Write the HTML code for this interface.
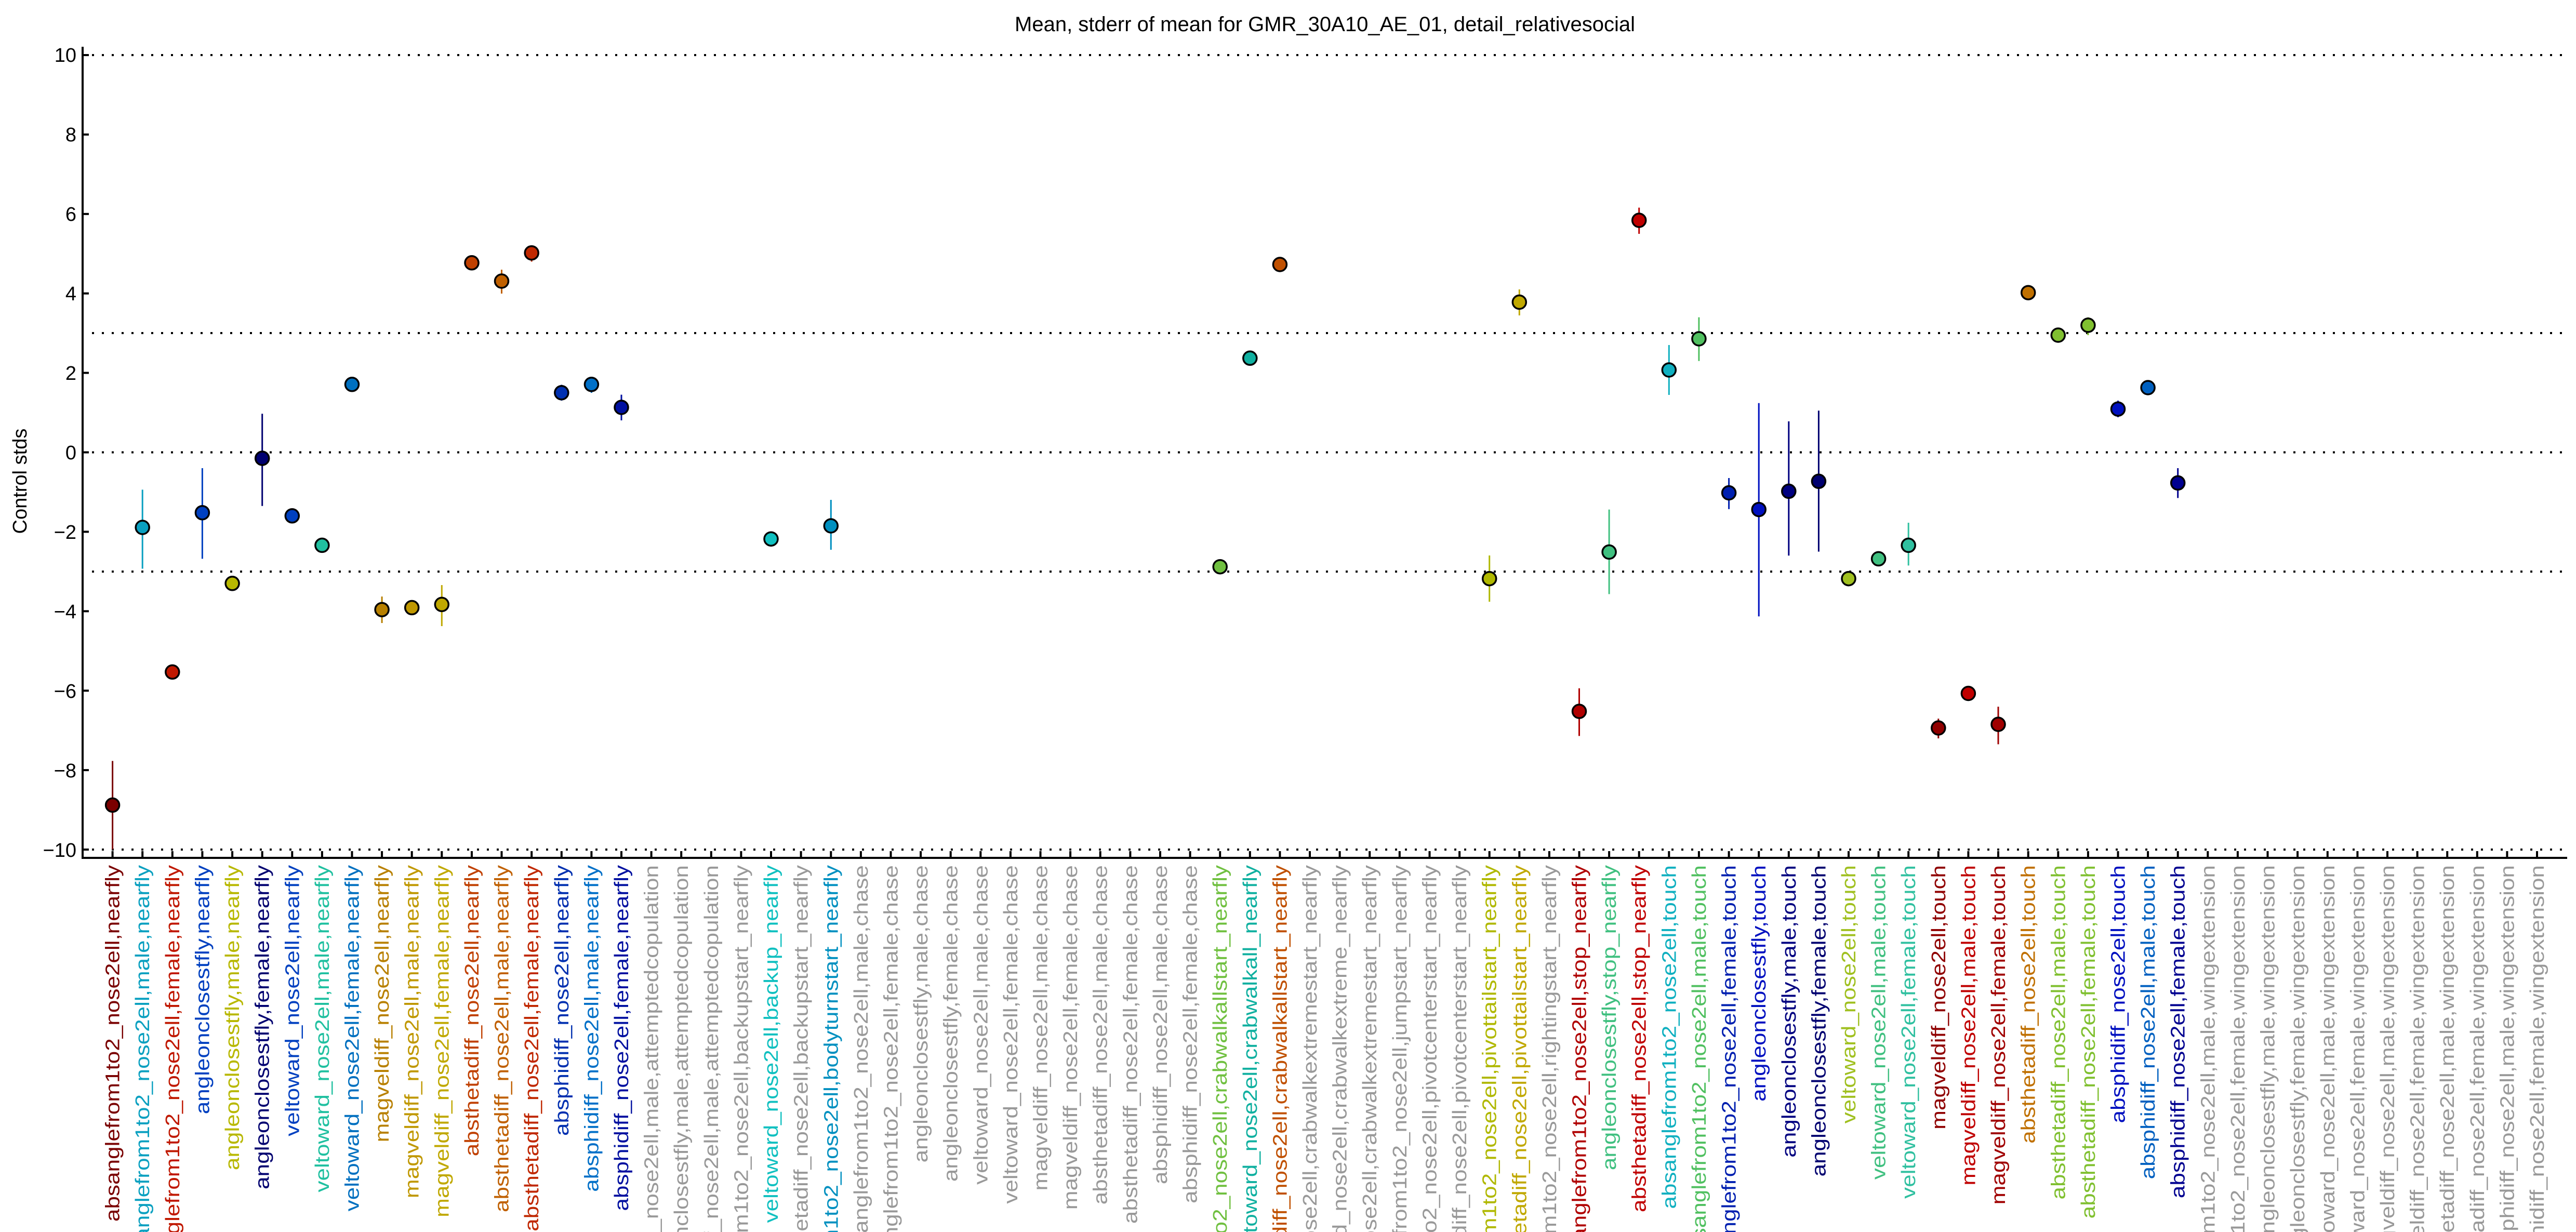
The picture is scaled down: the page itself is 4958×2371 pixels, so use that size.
<!DOCTYPE html>
<html><head><meta charset="utf-8"><style>html,body{margin:0;padding:0;background:#fff;width:4958px;height:2371px;overflow:hidden}svg{display:block}</style></head>
<body>
<svg xmlns="http://www.w3.org/2000/svg" width="4958" height="2371" viewBox="0 0 4958 2371" font-family="Liberation Sans, Arial, sans-serif">
<rect width="4958" height="2371" fill="#fff"/>
<text x="2550" y="60" font-size="40" text-anchor="middle" fill="#000">Mean, stderr of mean for GMR_30A10_AE_01, detail_relativesocial</text>
<text transform="translate(51,926) rotate(-90)" font-size="38" text-anchor="middle" fill="#000">Control stds</text>
<g stroke="#000" stroke-width="4" stroke-dasharray="4 15">
<line x1="177" y1="106" x2="4941" y2="106"/>
<line x1="177" y1="641" x2="4941" y2="641"/>
<line x1="177" y1="870.5" x2="4941" y2="870.5"/>
<line x1="177" y1="1100" x2="4941" y2="1100"/>
<line x1="177" y1="1635" x2="4941" y2="1635"/>
</g>
<line x1="159" y1="90" x2="159" y2="1653" stroke="#000" stroke-width="4"/>
<line x1="157" y1="1651" x2="4941" y2="1651" stroke="#000" stroke-width="4"/>
<g stroke="#000" stroke-width="4">
<line x1="159" y1="106" x2="171" y2="106"/><line x1="159" y1="258.9" x2="171" y2="258.9"/><line x1="159" y1="411.8" x2="171" y2="411.8"/><line x1="159" y1="564.7" x2="171" y2="564.7"/><line x1="159" y1="717.6" x2="171" y2="717.6"/><line x1="159" y1="870.5" x2="171" y2="870.5"/><line x1="159" y1="1023.4" x2="171" y2="1023.4"/><line x1="159" y1="1176.3" x2="171" y2="1176.3"/><line x1="159" y1="1329.2" x2="171" y2="1329.2"/><line x1="159" y1="1482.1" x2="171" y2="1482.1"/><line x1="159" y1="1635" x2="171" y2="1635"/>
</g>
<g font-size="38" text-anchor="end" fill="#000">
<text x="147" y="119">10</text><text x="147" y="272">8</text><text x="147" y="425">6</text><text x="147" y="578">4</text><text x="147" y="731">2</text><text x="147" y="884">0</text><text x="147" y="1037">−2</text><text x="147" y="1190">−4</text><text x="147" y="1343">−6</text><text x="147" y="1496">−8</text><text x="147" y="1649">−10</text>
</g>
<path stroke="#000" stroke-width="4" fill="none" d="M216.6 1651v-13M274.2 1651v-13M331.8 1651v-13M389.4 1651v-13M447.1 1651v-13M504.7 1651v-13M562.3 1651v-13M619.9 1651v-13M677.5 1651v-13M735.1 1651v-13M792.7 1651v-13M850.3 1651v-13M908 1651v-13M965.5 1651v-13M1023.2 1651v-13M1080.8 1651v-13M1138.4 1651v-13M1196 1651v-13M1253.6 1651v-13M1311.2 1651v-13M1368.8 1651v-13M1426.4 1651v-13M1484 1651v-13M1541.6 1651v-13M1599.3 1651v-13M1656.9 1651v-13M1714.5 1651v-13M1772.1 1651v-13M1829.7 1651v-13M1887.3 1651v-13M1944.9 1651v-13M2002.5 1651v-13M2060.1 1651v-13M2117.7 1651v-13M2175.4 1651v-13M2233 1651v-13M2290.6 1651v-13M2348.2 1651v-13M2405.8 1651v-13M2463.4 1651v-13M2521 1651v-13M2578.6 1651v-13M2636.2 1651v-13M2693.8 1651v-13M2751.5 1651v-13M2809.1 1651v-13M2866.7 1651v-13M2924.3 1651v-13M2981.9 1651v-13M3039.5 1651v-13M3097.1 1651v-13M3154.7 1651v-13M3212.3 1651v-13M3269.9 1651v-13M3327.6 1651v-13M3385.2 1651v-13M3442.8 1651v-13M3500.4 1651v-13M3558 1651v-13M3615.6 1651v-13M3673.2 1651v-13M3730.8 1651v-13M3788.4 1651v-13M3846 1651v-13M3903.7 1651v-13M3961.3 1651v-13M4018.9 1651v-13M4076.5 1651v-13M4134.1 1651v-13M4191.7 1651v-13M4249.3 1651v-13M4306.9 1651v-13M4364.5 1651v-13M4422.1 1651v-13M4479.8 1651v-13M4537.4 1651v-13M4595 1651v-13M4652.6 1651v-13M4710.2 1651v-13M4767.8 1651v-13M4825.4 1651v-13M4883 1651v-13"/>
<g stroke-width="3" fill="none">
<line x1="216.6" y1="1464.5" x2="216.6" y2="1635" stroke="#7a0000"/>
<line x1="274.2" y1="942.4" x2="274.2" y2="1094.5" stroke="#0aa0c0"/>
<line x1="389.4" y1="901" x2="389.4" y2="1075.4" stroke="#0040c0"/>
<line x1="504.7" y1="796.3" x2="504.7" y2="973.7" stroke="#000070"/>
<line x1="562.3" y1="981" x2="562.3" y2="1004" stroke="#0040c0"/>
<line x1="677.5" y1="727.5" x2="677.5" y2="752" stroke="#0070c0"/>
<line x1="735.1" y1="1148" x2="735.1" y2="1199" stroke="#b88000"/>
<line x1="792.7" y1="1155" x2="792.7" y2="1184" stroke="#c09800"/>
<line x1="850.3" y1="1126" x2="850.3" y2="1205" stroke="#c0a800"/>
<line x1="965.5" y1="519" x2="965.5" y2="565" stroke="#c06000"/>
<line x1="1023.2" y1="473" x2="1023.2" y2="503.5" stroke="#c02800"/>
<line x1="1080.8" y1="740.5" x2="1080.8" y2="771" stroke="#0030b0"/>
<line x1="1138.4" y1="725" x2="1138.4" y2="756" stroke="#0070c8"/>
<line x1="1196" y1="759.6" x2="1196" y2="809" stroke="#0010a0"/>
<line x1="1599.3" y1="962" x2="1599.3" y2="1058" stroke="#0090c0"/>
<line x1="2463.4" y1="496" x2="2463.4" y2="522.6" stroke="#c05000"/>
<line x1="2866.7" y1="1069" x2="2866.7" y2="1158" stroke="#b0b800"/>
<line x1="2924.3" y1="557" x2="2924.3" y2="607" stroke="#c0a800"/>
<line x1="3039.5" y1="1324.6" x2="3039.5" y2="1416.4" stroke="#b00000"/>
<line x1="3097.1" y1="980.6" x2="3097.1" y2="1143.4" stroke="#40c080"/>
<line x1="3154.7" y1="399.6" x2="3154.7" y2="450" stroke="#c00000"/>
<line x1="3212.3" y1="664" x2="3212.3" y2="760" stroke="#10b0c0"/>
<line x1="3269.9" y1="610.6" x2="3269.9" y2="694.7" stroke="#50c060"/>
<line x1="3327.6" y1="920" x2="3327.6" y2="979.8" stroke="#0020b0"/>
<line x1="3385.2" y1="775.7" x2="3385.2" y2="1186.2" stroke="#0010c0"/>
<line x1="3442.8" y1="810.9" x2="3442.8" y2="1069.3" stroke="#000080"/>
<line x1="3500.4" y1="790.2" x2="3500.4" y2="1061.6" stroke="#000070"/>
<line x1="3673.2" y1="1006" x2="3673.2" y2="1088.4" stroke="#30c0a0"/>
<line x1="3730.8" y1="1383" x2="3730.8" y2="1421" stroke="#900000"/>
<line x1="3846" y1="1360" x2="3846" y2="1432.4" stroke="#a00000"/>
<line x1="4018.9" y1="610.6" x2="4018.9" y2="645" stroke="#80c030"/>
<line x1="4076.5" y1="771" x2="4076.5" y2="803" stroke="#0010c0"/>
<line x1="4191.7" y1="901" x2="4191.7" y2="958.4" stroke="#000090"/>
</g>
<g stroke="#000" stroke-width="3.5">
<circle cx="216.6" cy="1549.4" r="13" fill="#7a0000"/>
<circle cx="274.2" cy="1015" r="13" fill="#0aa0c0"/>
<circle cx="331.8" cy="1293.3" r="13" fill="#c01800"/>
<circle cx="389.4" cy="986.7" r="13" fill="#0040c0"/>
<circle cx="447.1" cy="1122.8" r="13" fill="#b8b800"/>
<circle cx="504.7" cy="882" r="13" fill="#000070"/>
<circle cx="562.3" cy="992.8" r="13" fill="#0040c0"/>
<circle cx="619.9" cy="1049.4" r="13" fill="#20c0a0"/>
<circle cx="677.5" cy="739.8" r="13" fill="#0070c0"/>
<circle cx="735.1" cy="1173.2" r="13" fill="#b88000"/>
<circle cx="792.7" cy="1169.4" r="13" fill="#c09800"/>
<circle cx="850.3" cy="1163.3" r="13" fill="#c0a800"/>
<circle cx="908" cy="505.8" r="13" fill="#c04000"/>
<circle cx="965.5" cy="541" r="13" fill="#c06000"/>
<circle cx="1023.2" cy="486.7" r="13" fill="#c02800"/>
<circle cx="1080.8" cy="755.8" r="13" fill="#0030b0"/>
<circle cx="1138.4" cy="739.8" r="13" fill="#0070c8"/>
<circle cx="1196" cy="784" r="13" fill="#0010a0"/>
<circle cx="1484" cy="1037.2" r="13" fill="#10c0c0"/>
<circle cx="1599.3" cy="1012" r="13" fill="#0090c0"/>
<circle cx="2348.2" cy="1090.7" r="13" fill="#70c040"/>
<circle cx="2405.8" cy="689.3" r="13" fill="#10b0a0"/>
<circle cx="2463.4" cy="509" r="13" fill="#c05000"/>
<circle cx="2866.7" cy="1113.6" r="13" fill="#b0b800"/>
<circle cx="2924.3" cy="581.5" r="13" fill="#c0a800"/>
<circle cx="3039.5" cy="1369" r="13" fill="#b00000"/>
<circle cx="3097.1" cy="1062.4" r="13" fill="#40c080"/>
<circle cx="3154.7" cy="424" r="13" fill="#c00000"/>
<circle cx="3212.3" cy="712" r="13" fill="#10b0c0"/>
<circle cx="3269.9" cy="652" r="13" fill="#50c060"/>
<circle cx="3327.6" cy="948.5" r="13" fill="#0020b0"/>
<circle cx="3385.2" cy="980.6" r="13" fill="#0010c0"/>
<circle cx="3442.8" cy="945.4" r="13" fill="#000080"/>
<circle cx="3500.4" cy="926.3" r="13" fill="#000070"/>
<circle cx="3558" cy="1113.6" r="13" fill="#a0c020"/>
<circle cx="3615.6" cy="1075.4" r="13" fill="#40c080"/>
<circle cx="3673.2" cy="1049.4" r="13" fill="#30c0a0"/>
<circle cx="3730.8" cy="1401" r="13" fill="#900000"/>
<circle cx="3788.4" cy="1334.5" r="13" fill="#c00000"/>
<circle cx="3846" cy="1394" r="13" fill="#a00000"/>
<circle cx="3903.7" cy="563.2" r="13" fill="#c07000"/>
<circle cx="3961.3" cy="645" r="13" fill="#80c030"/>
<circle cx="4018.9" cy="625.9" r="13" fill="#80c030"/>
<circle cx="4076.5" cy="787.2" r="13" fill="#0010c0"/>
<circle cx="4134.1" cy="746" r="13" fill="#0060c0"/>
<circle cx="4191.7" cy="929.4" r="13" fill="#000090"/>
</g>
<g font-size="38" text-anchor="end">
<text transform="translate(216.6,1665) rotate(-90) scale(1.16,1)" y="13" fill="#7a0000">absanglefrom1to2_nose2ell,nearfly</text>
<text transform="translate(274.2,1665) rotate(-90) scale(1.16,1)" y="13" fill="#0aa0c0">absanglefrom1to2_nose2ell,male,nearfly</text>
<text transform="translate(331.8,1665) rotate(-90) scale(1.16,1)" y="13" fill="#c01800">absanglefrom1to2_nose2ell,female,nearfly</text>
<text transform="translate(389.4,1665) rotate(-90) scale(1.16,1)" y="13" fill="#0040c0">angleonclosestfly,nearfly</text>
<text transform="translate(447.1,1665) rotate(-90) scale(1.16,1)" y="13" fill="#b8b800">angleonclosestfly,male,nearfly</text>
<text transform="translate(504.7,1665) rotate(-90) scale(1.16,1)" y="13" fill="#000070">angleonclosestfly,female,nearfly</text>
<text transform="translate(562.3,1665) rotate(-90) scale(1.16,1)" y="13" fill="#0040c0">veltoward_nose2ell,nearfly</text>
<text transform="translate(619.9,1665) rotate(-90) scale(1.16,1)" y="13" fill="#20c0a0">veltoward_nose2ell,male,nearfly</text>
<text transform="translate(677.5,1665) rotate(-90) scale(1.16,1)" y="13" fill="#0070c0">veltoward_nose2ell,female,nearfly</text>
<text transform="translate(735.1,1665) rotate(-90) scale(1.16,1)" y="13" fill="#b88000">magveldiff_nose2ell,nearfly</text>
<text transform="translate(792.7,1665) rotate(-90) scale(1.16,1)" y="13" fill="#c09800">magveldiff_nose2ell,male,nearfly</text>
<text transform="translate(850.3,1665) rotate(-90) scale(1.16,1)" y="13" fill="#c0a800">magveldiff_nose2ell,female,nearfly</text>
<text transform="translate(908,1665) rotate(-90) scale(1.16,1)" y="13" fill="#c04000">absthetadiff_nose2ell,nearfly</text>
<text transform="translate(965.5,1665) rotate(-90) scale(1.16,1)" y="13" fill="#c06000">absthetadiff_nose2ell,male,nearfly</text>
<text transform="translate(1023.2,1665) rotate(-90) scale(1.16,1)" y="13" fill="#c02800">absthetadiff_nose2ell,female,nearfly</text>
<text transform="translate(1080.8,1665) rotate(-90) scale(1.16,1)" y="13" fill="#0030b0">absphidiff_nose2ell,nearfly</text>
<text transform="translate(1138.4,1665) rotate(-90) scale(1.16,1)" y="13" fill="#0070c8">absphidiff_nose2ell,male,nearfly</text>
<text transform="translate(1196,1665) rotate(-90) scale(1.16,1)" y="13" fill="#0010a0">absphidiff_nose2ell,female,nearfly</text>
<g fill="#999">
<text transform="translate(1253.6,1665) rotate(-90) scale(1.16,1)" y="13">absanglefrom1to2_nose2ell,male,attemptedcopulation</text>
<text transform="translate(1311.2,1665) rotate(-90) scale(1.16,1)" y="13">angleonclosestfly,male,attemptedcopulation</text>
<text transform="translate(1368.8,1665) rotate(-90) scale(1.16,1)" y="13">magveldiff_nose2ell,male,attemptedcopulation</text>
<text transform="translate(1426.4,1665) rotate(-90) scale(1.16,1)" y="13">absanglefrom1to2_nose2ell,backupstart_nearfly</text>
</g>
<text transform="translate(1484,1665) rotate(-90) scale(1.16,1)" y="13" fill="#10c0c0">veltoward_nose2ell,backup_nearfly</text>
<text transform="translate(1541.6,1665) rotate(-90) scale(1.16,1)" y="13" fill="#999">absthetadiff_nose2ell,backupstart_nearfly</text>
<text transform="translate(1599.3,1665) rotate(-90) scale(1.16,1)" y="13" fill="#0090c0">absanglefrom1to2_nose2ell,bodyturnstart_nearfly</text>
<g fill="#999">
<text transform="translate(1656.9,1665) rotate(-90) scale(1.16,1)" y="13">absanglefrom1to2_nose2ell,male,chase</text>
<text transform="translate(1714.5,1665) rotate(-90) scale(1.16,1)" y="13">absanglefrom1to2_nose2ell,female,chase</text>
<text transform="translate(1772.1,1665) rotate(-90) scale(1.16,1)" y="13">angleonclosestfly,male,chase</text>
<text transform="translate(1829.7,1665) rotate(-90) scale(1.16,1)" y="13">angleonclosestfly,female,chase</text>
<text transform="translate(1887.3,1665) rotate(-90) scale(1.16,1)" y="13">veltoward_nose2ell,male,chase</text>
<text transform="translate(1944.9,1665) rotate(-90) scale(1.16,1)" y="13">veltoward_nose2ell,female,chase</text>
<text transform="translate(2002.5,1665) rotate(-90) scale(1.16,1)" y="13">magveldiff_nose2ell,male,chase</text>
<text transform="translate(2060.1,1665) rotate(-90) scale(1.16,1)" y="13">magveldiff_nose2ell,female,chase</text>
<text transform="translate(2117.7,1665) rotate(-90) scale(1.16,1)" y="13">absthetadiff_nose2ell,male,chase</text>
<text transform="translate(2175.4,1665) rotate(-90) scale(1.16,1)" y="13">absthetadiff_nose2ell,female,chase</text>
<text transform="translate(2233,1665) rotate(-90) scale(1.16,1)" y="13">absphidiff_nose2ell,male,chase</text>
<text transform="translate(2290.6,1665) rotate(-90) scale(1.16,1)" y="13">absphidiff_nose2ell,female,chase</text>
</g>
<text transform="translate(2348.2,1665) rotate(-90) scale(1.16,1)" y="13" fill="#70c040">absanglefrom1to2_nose2ell,crabwalkallstart_nearfly</text>
<text transform="translate(2405.8,1665) rotate(-90) scale(1.16,1)" y="13" fill="#10b0a0">veltoward_nose2ell,crabwalkall_nearfly</text>
<text transform="translate(2463.4,1665) rotate(-90) scale(1.16,1)" y="13" fill="#c05000">absthetadiff_nose2ell,crabwalkallstart_nearfly</text>
<g fill="#999">
<text transform="translate(2521,1665) rotate(-90) scale(1.16,1)" y="13">veltoward_nose2ell,crabwalkextremestart_nearfly</text>
<text transform="translate(2578.6,1665) rotate(-90) scale(1.16,1)" y="13">veltoward_nose2ell,crabwalkextreme_nearfly</text>
<text transform="translate(2636.2,1665) rotate(-90) scale(1.16,1)" y="13">magveldiff_nose2ell,crabwalkextremestart_nearfly</text>
<text transform="translate(2693.8,1665) rotate(-90) scale(1.16,1)" y="13">absanglefrom1to2_nose2ell,jumpstart_nearfly</text>
<text transform="translate(2751.5,1665) rotate(-90) scale(1.16,1)" y="13">absanglefrom1to2_nose2ell,pivotcenterstart_nearfly</text>
<text transform="translate(2809.1,1665) rotate(-90) scale(1.16,1)" y="13">absthetadiff_nose2ell,pivotcenterstart_nearfly</text>
</g>
<text transform="translate(2866.7,1665) rotate(-90) scale(1.16,1)" y="13" fill="#b0b800">absanglefrom1to2_nose2ell,pivottailstart_nearfly</text>
<text transform="translate(2924.3,1665) rotate(-90) scale(1.16,1)" y="13" fill="#c0a800">absthetadiff_nose2ell,pivottailstart_nearfly</text>
<text transform="translate(2981.9,1665) rotate(-90) scale(1.16,1)" y="13" fill="#999">absanglefrom1to2_nose2ell,rightingstart_nearfly</text>
<text transform="translate(3039.5,1665) rotate(-90) scale(1.16,1)" y="13" fill="#b00000">absanglefrom1to2_nose2ell,stop_nearfly</text>
<text transform="translate(3097.1,1665) rotate(-90) scale(1.16,1)" y="13" fill="#40c080">angleonclosestfly,stop_nearfly</text>
<text transform="translate(3154.7,1665) rotate(-90) scale(1.16,1)" y="13" fill="#c00000">absthetadiff_nose2ell,stop_nearfly</text>
<text transform="translate(3212.3,1665) rotate(-90) scale(1.16,1)" y="13" fill="#10b0c0">absanglefrom1to2_nose2ell,touch</text>
<text transform="translate(3269.9,1665) rotate(-90) scale(1.16,1)" y="13" fill="#50c060">absanglefrom1to2_nose2ell,male,touch</text>
<text transform="translate(3327.6,1665) rotate(-90) scale(1.16,1)" y="13" fill="#0020b0">absanglefrom1to2_nose2ell,female,touch</text>
<text transform="translate(3385.2,1665) rotate(-90) scale(1.16,1)" y="13" fill="#0010c0">angleonclosestfly,touch</text>
<text transform="translate(3442.8,1665) rotate(-90) scale(1.16,1)" y="13" fill="#000080">angleonclosestfly,male,touch</text>
<text transform="translate(3500.4,1665) rotate(-90) scale(1.16,1)" y="13" fill="#000070">angleonclosestfly,female,touch</text>
<text transform="translate(3558,1665) rotate(-90) scale(1.16,1)" y="13" fill="#a0c020">veltoward_nose2ell,touch</text>
<text transform="translate(3615.6,1665) rotate(-90) scale(1.16,1)" y="13" fill="#40c080">veltoward_nose2ell,male,touch</text>
<text transform="translate(3673.2,1665) rotate(-90) scale(1.16,1)" y="13" fill="#30c0a0">veltoward_nose2ell,female,touch</text>
<text transform="translate(3730.8,1665) rotate(-90) scale(1.16,1)" y="13" fill="#900000">magveldiff_nose2ell,touch</text>
<text transform="translate(3788.4,1665) rotate(-90) scale(1.16,1)" y="13" fill="#c00000">magveldiff_nose2ell,male,touch</text>
<text transform="translate(3846,1665) rotate(-90) scale(1.16,1)" y="13" fill="#a00000">magveldiff_nose2ell,female,touch</text>
<text transform="translate(3903.7,1665) rotate(-90) scale(1.16,1)" y="13" fill="#c07000">absthetadiff_nose2ell,touch</text>
<text transform="translate(3961.3,1665) rotate(-90) scale(1.16,1)" y="13" fill="#80c030">absthetadiff_nose2ell,male,touch</text>
<text transform="translate(4018.9,1665) rotate(-90) scale(1.16,1)" y="13" fill="#80c030">absthetadiff_nose2ell,female,touch</text>
<text transform="translate(4076.5,1665) rotate(-90) scale(1.16,1)" y="13" fill="#0010c0">absphidiff_nose2ell,touch</text>
<text transform="translate(4134.1,1665) rotate(-90) scale(1.16,1)" y="13" fill="#0060c0">absphidiff_nose2ell,male,touch</text>
<text transform="translate(4191.7,1665) rotate(-90) scale(1.16,1)" y="13" fill="#000090">absphidiff_nose2ell,female,touch</text>
<g fill="#999">
<text transform="translate(4249.3,1665) rotate(-90) scale(1.16,1)" y="13">absanglefrom1to2_nose2ell,male,wingextension</text>
<text transform="translate(4306.9,1665) rotate(-90) scale(1.16,1)" y="13">absanglefrom1to2_nose2ell,female,wingextension</text>
<text transform="translate(4364.5,1665) rotate(-90) scale(1.16,1)" y="13">angleonclosestfly,male,wingextension</text>
<text transform="translate(4422.1,1665) rotate(-90) scale(1.16,1)" y="13">angleonclosestfly,female,wingextension</text>
<text transform="translate(4479.8,1665) rotate(-90) scale(1.16,1)" y="13">veltoward_nose2ell,male,wingextension</text>
<text transform="translate(4537.4,1665) rotate(-90) scale(1.16,1)" y="13">veltoward_nose2ell,female,wingextension</text>
<text transform="translate(4595,1665) rotate(-90) scale(1.16,1)" y="13">magveldiff_nose2ell,male,wingextension</text>
<text transform="translate(4652.6,1665) rotate(-90) scale(1.16,1)" y="13">magveldiff_nose2ell,female,wingextension</text>
<text transform="translate(4710.2,1665) rotate(-90) scale(1.16,1)" y="13">absthetadiff_nose2ell,male,wingextension</text>
<text transform="translate(4767.8,1665) rotate(-90) scale(1.16,1)" y="13">absthetadiff_nose2ell,female,wingextension</text>
<text transform="translate(4825.4,1665) rotate(-90) scale(1.16,1)" y="13">absphidiff_nose2ell,male,wingextension</text>
<text transform="translate(4883,1665) rotate(-90) scale(1.16,1)" y="13">absphidiff_nose2ell,female,wingextension</text>
</g>
</g>
</svg>
</body></html>
